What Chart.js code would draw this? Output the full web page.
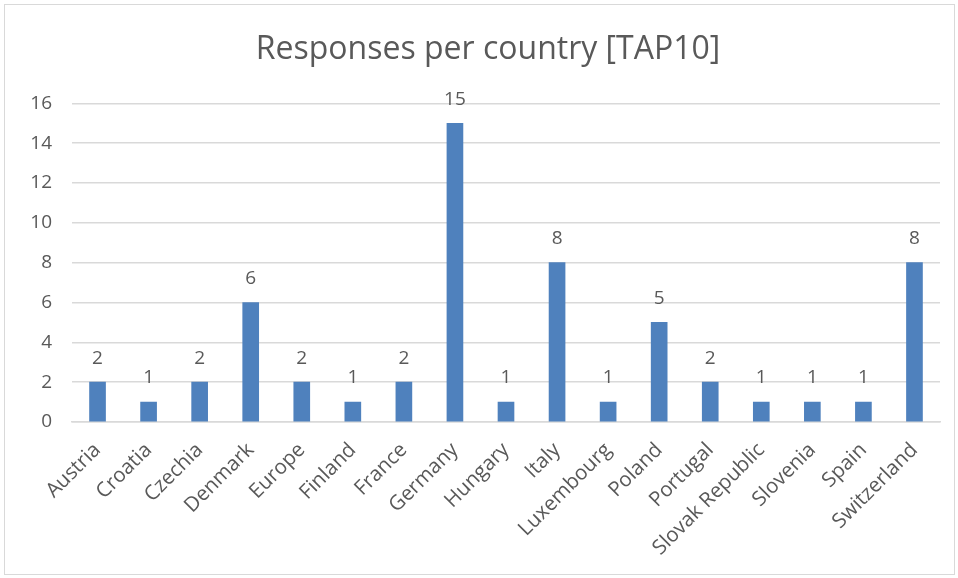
<!DOCTYPE html>
<html>
<head>
<meta charset="utf-8">
<script src="https://cdn.jsdelivr.net/npm/chart.js@4.4.1/dist/chart.umd.min.js"></script>
<style>
  html, body { margin: 0; padding: 0; background: #ffffff; }
  #frame { position: absolute; left: 4px; top: 4px; width: 951px; height: 571px; box-sizing: border-box; border: 1px solid #d9d9d9; background: #fff; }
  #c { display: block; }
</style>
</head>
<body>
<div id="frame"><canvas id="c" width="949" height="569"></canvas></div>
<script>
const categories = ["Austria","Croatia","Czechia","Denmark","Europe","Finland","France","Germany","Hungary","Italy","Luxembourg","Poland","Portugal","Slovak Republic","Slovenia","Spain","Switzerland"];
const responses = [2,1,2,6,2,1,2,15,1,8,1,5,2,1,1,1,8];
const yTicks = [0,2,4,6,8,10,12,14,16];

const TEXT = '#595959';
const FONT = "'Open Sans', 'Noto Sans', sans-serif";

const dataLabels = {
  id: 'dataLabels',
  afterDatasetsDraw(chart) {
    const ctx = chart.ctx;
    const meta = chart.getDatasetMeta(0);
    ctx.save();
    ctx.fillStyle = TEXT;
    ctx.font = "19px " + FONT;
    ctx.textAlign = 'center';
    ctx.textBaseline = 'middle';
    meta.data.forEach((bar, i) => {
      ctx.fillText(String(chart.data.datasets[0].data[i]), bar.x, bar.y - 24);
    });
    ctx.restore();
  }
};

// shift the title box slightly right, as in the reference
const titleShift = {
  id: 'titleShift',
  afterLayout(chart) {
    if (chart.titleBlock) chart.titleBlock.left = 31;
  }
};

new Chart(document.getElementById('c'), {
  type: 'bar',
  data: {
    labels: categories,
    datasets: [{
      data: responses,
      backgroundColor: '#4f81bd',
      borderWidth: 0,
      barThickness: 16
    }]
  },
  options: {
    responsive: false,
    animation: false,
    devicePixelRatio: 1,
    layout: { padding: { left: 0, right: 14, top: 0, bottom: 0 } },
    plugins: {
      legend: { display: false },
      tooltip: { enabled: false },
      title: {
        display: true,
        text: 'Responses per country [TAP10]',
        color: TEXT,
        font: { family: FONT, size: 32, weight: 'normal' },
        padding: { top: 26, bottom: 34 }
      }
    },
    scales: {
      x: {
        grid: { display: false, drawTicks: false },
        border: { display: true, color: '#d9d9d9', width: 1.5 },
        ticks: {
          color: TEXT,
          font: { family: FONT, size: 20.5 },
          minRotation: 45,
          maxRotation: 45,
          autoSkip: false,
          padding: 16
        },
        afterFit(s) { s.height = 152; }
      },
      y: {
        min: 0,
        max: 16,
        afterBuildTicks(s) { s.ticks = yTicks.map(v => ({ value: v })); },
        grid: { color: '#d9d9d9', lineWidth: 1.5, drawTicks: false },
        border: { display: false },
        ticks: {
          color: TEXT,
          font: { family: FONT, size: 19 },
          padding: 20
        },
        afterFit(s) { s.width = 67; }
      }
    }
  },
  plugins: [dataLabels, titleShift]
});
</script>
</body>
</html>
